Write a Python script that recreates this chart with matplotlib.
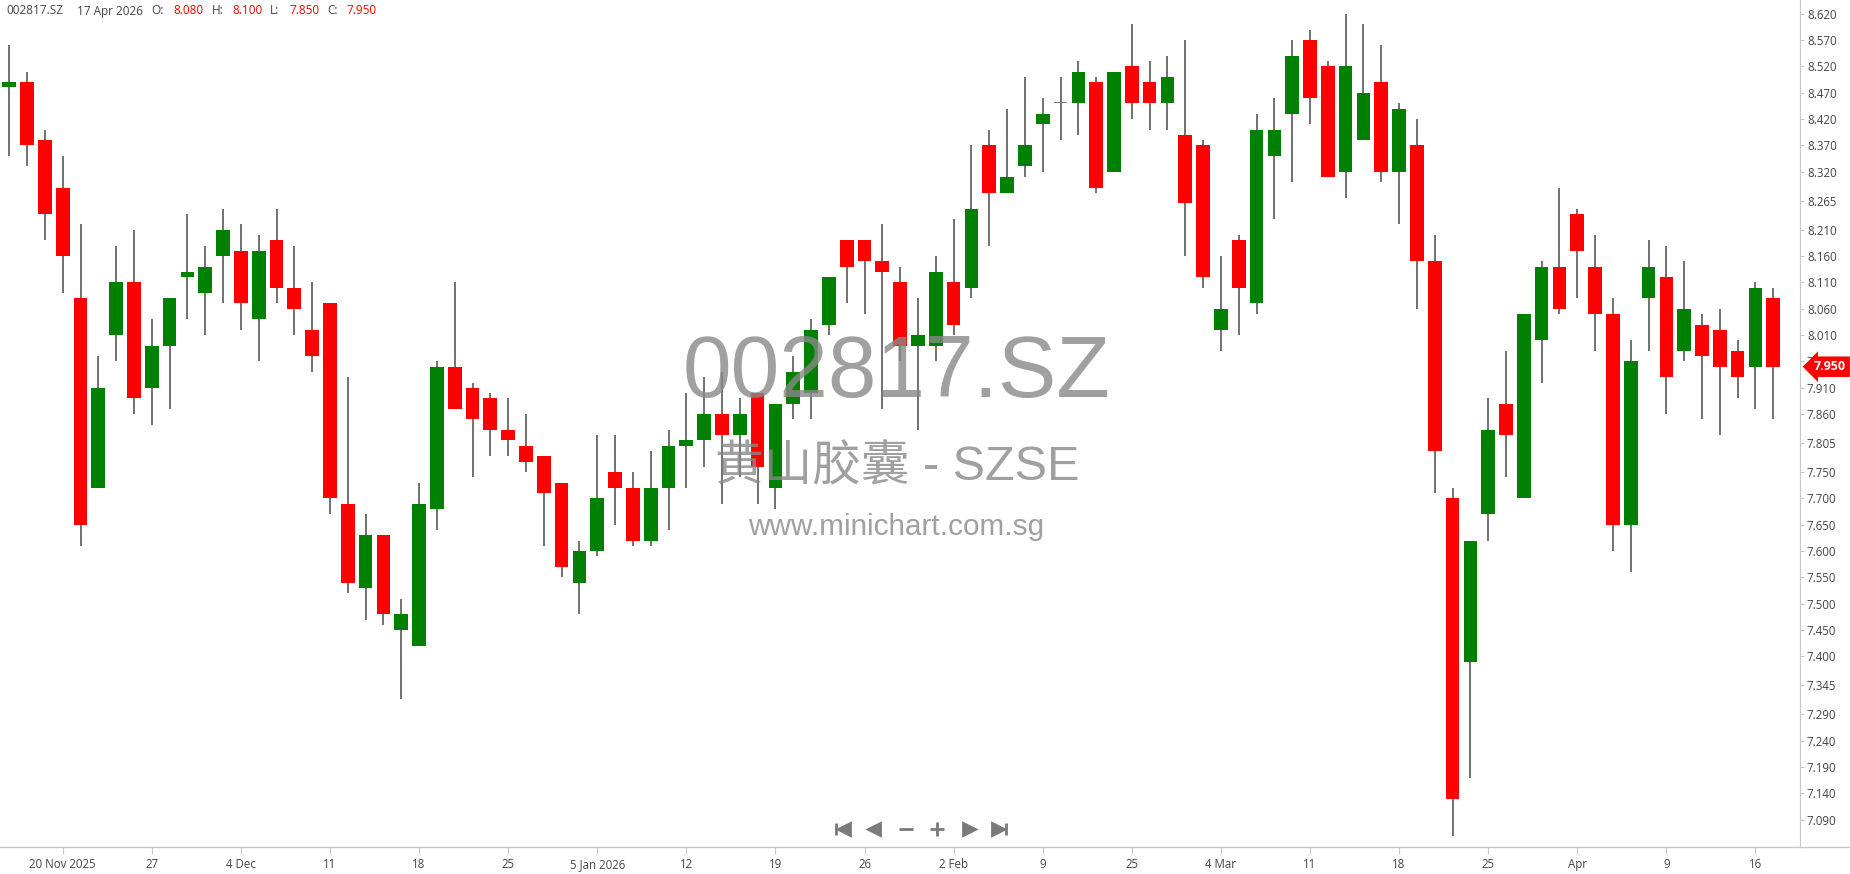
import matplotlib
matplotlib.use('Agg')
import matplotlib.pyplot as plt
from matplotlib.lines import Line2D
import numpy as np
import pandas as pd


TICKER = '002817.SZ'
NAME = '黄山胶囊 - SZSE'
SITE = 'www.minichart.com.sg'

# trading days 17 Nov 2025 .. 17 Apr 2026 (exchange holidays left out)
HOLIDAYS = ['2026-01-01', '2026-01-02', '2026-02-16', '2026-02-17',
            '2026-02-18', '2026-02-19', '2026-02-20', '2026-02-23',
            '2026-02-24', '2026-04-06']
dates = [d for d in pd.bdate_range('2025-11-17', '2026-04-17')
         if d.strftime('%Y-%m-%d') not in HOLIDAYS]

opens = [8.48, 8.49, 8.38, 8.29, 8.08, 7.72, 8.01, 8.11, 7.91, 7.99,
         8.12, 8.09, 8.16, 8.17, 8.04, 8.19, 8.10, 8.02, 8.07, 7.69,
         7.53, 7.63, 7.45, 7.42, 7.68, 7.95, 7.91, 7.89, 7.83, 7.80,
         7.78, 7.73, 7.54, 7.60, 7.75, 7.72, 7.62, 7.72, 7.80, 7.81,
         7.86, 7.82, 7.90, 7.72, 7.88, 7.90, 8.03, 8.19, 8.19, 8.15,
         8.11, 7.99, 7.99, 8.11, 8.10, 8.37, 8.28, 8.33, 8.41, 8.45,
         8.45, 8.49, 8.32, 8.52, 8.49, 8.45, 8.39, 8.37, 8.02, 8.19,
         8.07, 8.35, 8.43, 8.57, 8.52, 8.32, 8.38, 8.49, 8.32, 8.37,
         8.15, 7.70, 7.39, 7.67, 7.88, 7.70, 8.00, 8.14, 8.24, 8.14,
         8.05, 7.65, 8.08, 8.12, 7.98, 8.03, 8.02, 7.98, 7.95, 8.08]
highs = [8.56, 8.51, 8.40, 8.35, 8.22, 7.97, 8.18, 8.21, 8.04, 8.08,
         8.24, 8.18, 8.25, 8.22, 8.20, 8.25, 8.18, 8.11, 8.07, 7.93,
         7.67, 7.63, 7.51, 7.73, 7.96, 8.11, 7.92, 7.90, 7.89, 7.86,
         7.78, 7.73, 7.62, 7.82, 7.82, 7.75, 7.79, 7.83, 7.90, 7.93,
         7.94, 7.89, 7.90, 7.88, 7.97, 8.04, 8.12, 8.19, 8.19, 8.22,
         8.14, 8.08, 8.16, 8.23, 8.37, 8.40, 8.44, 8.50, 8.46, 8.50,
         8.53, 8.50, 8.51, 8.60, 8.53, 8.54, 8.57, 8.38, 8.16, 8.20,
         8.43, 8.46, 8.57, 8.59, 8.53, 8.62, 8.60, 8.56, 8.45, 8.42,
         8.20, 7.72, 7.62, 7.89, 7.98, 8.05, 8.15, 8.29, 8.25, 8.20,
         8.08, 8.00, 8.19, 8.18, 8.15, 8.05, 8.06, 8.00, 8.11, 8.10]
lows = [8.35, 8.33, 8.19, 8.09, 7.61, 7.72, 7.96, 7.86, 7.84, 7.87,
        8.04, 8.01, 8.07, 8.02, 7.96, 8.07, 8.01, 7.94, 7.67, 7.52,
        7.47, 7.46, 7.32, 7.42, 7.64, 7.87, 7.74, 7.78, 7.78, 7.75,
        7.61, 7.55, 7.48, 7.59, 7.65, 7.61, 7.61, 7.64, 7.72, 7.76,
        7.69, 7.74, 7.69, 7.68, 7.85, 7.85, 8.01, 8.07, 8.05, 7.87,
        7.96, 7.83, 7.96, 8.01, 8.08, 8.18, 8.28, 8.31, 8.32, 8.38,
        8.39, 8.28, 8.32, 8.42, 8.40, 8.40, 8.16, 8.10, 7.98, 8.01,
        8.05, 8.23, 8.30, 8.41, 8.31, 8.27, 8.38, 8.30, 8.22, 8.06,
        7.71, 7.06, 7.17, 7.62, 7.74, 7.70, 7.92, 8.05, 8.08, 7.98,
        7.60, 7.56, 7.98, 7.86, 7.96, 7.85, 7.82, 7.89, 7.87, 7.85]
closes = [8.49, 8.37, 8.24, 8.16, 7.65, 7.91, 8.11, 7.89, 7.99, 8.08,
          8.13, 8.14, 8.21, 8.07, 8.17, 8.10, 8.06, 7.97, 7.70, 7.54,
          7.63, 7.48, 7.48, 7.69, 7.95, 7.87, 7.85, 7.83, 7.81, 7.77,
          7.71, 7.57, 7.60, 7.70, 7.72, 7.62, 7.72, 7.80, 7.81, 7.86,
          7.82, 7.86, 7.76, 7.88, 7.94, 8.02, 8.12, 8.14, 8.15, 8.13,
          7.99, 8.01, 8.13, 8.03, 8.25, 8.28, 8.31, 8.37, 8.43, 8.45,
          8.51, 8.29, 8.51, 8.45, 8.45, 8.50, 8.26, 8.12, 8.06, 8.10,
          8.40, 8.40, 8.54, 8.46, 8.31, 8.52, 8.47, 8.32, 8.44, 8.15,
          7.79, 7.13, 7.62, 7.83, 7.82, 8.05, 8.14, 8.06, 8.17, 8.05,
          7.65, 7.96, 8.14, 7.93, 8.06, 7.97, 7.95, 7.93, 8.10, 7.95]

date_labels = ['20 Nov 2025', '27', '4 Dec', '11', '18', '25', '5 Jan 2026',
               '12', '19', '26', '2 Feb', '9', '25', '4 Mar', '11', '18',
               '25', 'Apr', '9', '16']
price_ticks = [8.620, 8.570, 8.520, 8.470, 8.420, 8.370, 8.320, 8.265,
               8.210, 8.160, 8.110, 8.060, 8.010, 7.960, 7.910, 7.860,
               7.805, 7.750, 7.700, 7.650, 7.600, 7.550, 7.500, 7.450,
               7.400, 7.345, 7.290, 7.240, 7.190, 7.140, 7.090]

UP = '#008000'
DOWN = '#ff0000'
FLAT = '#777777'
TEXT = '#444444'
LINE = '#c8c8c8'

W, H = 1850, 874

plt.rcParams['font.family'] = ['Open Sans', 'DejaVu Sans']

fig = plt.figure(figsize=(W / 100, H / 100), dpi=100)
ax = fig.add_axes([0, 27.3 / H, 1800 / W, 846.7 / H])

o = np.array(opens)
c = np.array(closes)
x = np.arange(len(dates))
cols = [UP if cc > oo else DOWN if cc < oo else FLAT for oo, cc in zip(o, c)]

ax.vlines(x, lows, highs, color='#666666', lw=1.3, zorder=2)
body = np.maximum(np.abs(c - o), 0.002)
ax.bar(x, body, bottom=np.minimum(o, c), width=0.77, color=cols,
       linewidth=0, zorder=3)

ax.set_xlim(-0.52, 100.5)
ax.set_ylim(7.039, 8.646)

ax.set_xticks(x[3::5])
ax.set_xticklabels(date_labels)
ax.yaxis.tick_right()
ax.set_yticks(price_ticks)
ax.set_yticklabels([f'{p:.3f}' for p in price_ticks])
ax.tick_params(axis='both', colors=LINE, labelcolor=TEXT, labelsize=8.3)
ax.tick_params(axis='x', length=5, pad=3)
ax.tick_params(axis='y', length=3, pad=2)

for side in ['left', 'top', 'bottom']:
    ax.spines[side].set_visible(False)
ax.spines['right'].set_color(LINE)
fig.add_artist(Line2D([0, 1], [27.3 / H] * 2, transform=fig.transFigure,
                      color=LINE, lw=1))

# last price flag
ax.annotate(f'{closes[-1]:.3f}', xy=(1, closes[-1]),
            xycoords=('axes fraction', 'data'), xytext=(14, 0),
            textcoords='offset pixels', ha='left', va='center',
            color='white', fontsize=9, fontweight='bold',
            bbox=dict(boxstyle='larrow,pad=0.3', fc=DOWN, ec='none'),
            annotation_clip=False, clip_on=False, zorder=10)

# watermark
fig.text(897 / W, 1 - 397 / H, TICKER, ha='center', va='baseline',
         family='Liberation Sans', fontsize=63, color='#888888', alpha=0.8)
fig.text(897 / W, 1 - 480 / H, NAME, ha='center', va='baseline',
         family=['Liberation Sans', 'Noto Sans CJK SC'], fontsize=35,
         color='#888888', alpha=0.8)
fig.text(896 / W, 1 - 535 / H, SITE, ha='center', va='baseline',
         family='Liberation Sans', fontsize=21.4, color='#888888', alpha=0.8)

# header line
header = [(6.7, TICKER, TEXT), (77.3, dates[-1].strftime('%-d %b %Y'), TEXT),
          (151.7, 'O:', TEXT), (173.3, f'{opens[-1]:.3f}', DOWN),
          (211.7, 'H:', TEXT), (232.7, f'{highs[-1]:.3f}', DOWN),
          (270, 'L:', TEXT), (289.3, f'{lows[-1]:.3f}', DOWN),
          (327.3, 'C:', TEXT), (346.7, f'{closes[-1]:.3f}', DOWN)]
for px, s, col in header:
    fig.text(px / W, 1 - 11 / H, s, ha='left', va='center', color=col,
             fontsize=8.5)

# navigation buttons
ny = 1 - 829.3 / H
nav = [(836, '|', 8), (844, '<', 8), (874, '<', 8), (905.7, '_', 10),
       (936.7, '+', 10), (969.3, '>', 8), (998, '>', 8), (1006, '|', 8)]
for px, m, ms in nav:
    fig.add_artist(Line2D([px / W], [ny], transform=fig.transFigure,
                          marker=m, ms=ms, mew=2, color='#7a7a7a', lw=0))

plt.savefig('out.png', dpi=100)
